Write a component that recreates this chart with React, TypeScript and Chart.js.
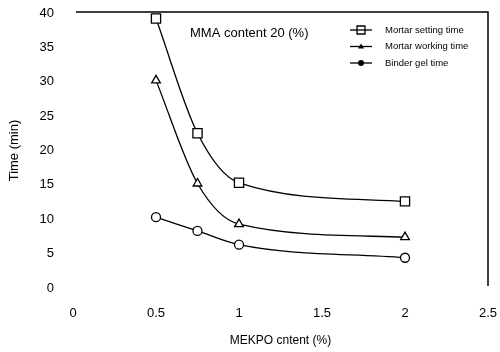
import React, { useEffect, useRef } from "react";
import { Chart, registerables } from "chart.js";
Chart.register(...registerables);

const mekpo = [0.5, 0.75, 1, 2];
const settingTime = [39.2, 22.5, 15.3, 12.6];
const workingTime = [30.2, 15.2, 9.3, 7.4];
const gelTime = [10.3, 8.3, 6.3, 4.4];
const seriesNames = ["Mortar setting time", "Mortar working time", "Binder gel time"];
const xTicks = [0, 0.5, 1, 1.5, 2, 2.5];
const yTicks = [0, 5, 10, 15, 20, 25, 30, 35, 40];
const annotation = "MMA content 20 (%)";

const FONT = "'Liberation Sans', Arial, sans-serif";

const framePlugin = {
  id: "frame",
  afterDraw(chart: any) {
    const { ctx, chartArea } = chart;
    ctx.save();
    ctx.strokeStyle = "#000";
    ctx.lineWidth = 1.5;
    ctx.beginPath();
    ctx.moveTo(chartArea.left + 3, chartArea.top - 1);
    ctx.lineTo(chartArea.right, chartArea.top - 1);
    ctx.lineTo(chartArea.right, chartArea.bottom - 2);
    ctx.stroke();

    // annotation text
    ctx.fillStyle = "#000";
    ctx.font = `13px ${FONT}`;
    ctx.textBaseline = "middle";
    ctx.textAlign = "left";
    ctx.fillText(annotation, chartArea.left + 117, chartArea.top + 20);

    // legend
    const lx = chartArea.left + 277;
    const ly = chartArea.top + 17;
    chart.data.datasets.forEach((ds: any, i: number) => {
      const y = ly + i * 16.5;
      ctx.strokeStyle = "#000";
      ctx.lineWidth = 1.3;
      ctx.beginPath();
      ctx.moveTo(lx, y);
      ctx.lineTo(lx + 22, y);
      ctx.stroke();
      const cx = lx + 11;
      ctx.beginPath();
      if (ds.pointStyle === "rect") {
        ctx.fillStyle = "#fff";
        ctx.rect(cx - 4, y - 4, 8, 8);
        ctx.fill();
        ctx.stroke();
        ctx.beginPath();
        ctx.moveTo(cx - 4, y);
        ctx.lineTo(cx + 4, y);
        ctx.stroke();
      } else if (ds.pointStyle === "triangle") {
        ctx.fillStyle = "#000";
        ctx.moveTo(cx, y - 3);
        ctx.lineTo(cx + 3, y + 2);
        ctx.lineTo(cx - 3, y + 2);
        ctx.closePath();
        ctx.fill();
      } else {
        ctx.fillStyle = "#000";
        ctx.arc(cx, y, 3, 0, Math.PI * 2);
        ctx.fill();
      }
      ctx.fillStyle = "#000";
      ctx.font = `9.5px ${FONT}`;
      ctx.textAlign = "left";
      ctx.fillText(ds.label, lx + 35, y);
    });
    ctx.restore();
  },
};

export default function App() {
  const ref = useRef<HTMLCanvasElement>(null);
  useEffect(() => {
    document.body.style.margin = "0";
    const mk = (label: string, vals: number[], style: string, radius: number) => ({
      label,
      data: mekpo.map((x, i) => ({ x, y: vals[i] })),
      borderColor: "#000",
      backgroundColor: "#fff",
      borderWidth: 1.3,
      pointStyle: style,
      pointRadius: radius,
      pointBorderWidth: 1.3,
      pointBorderColor: "#000",
      pointBackgroundColor: "#fff",
      cubicInterpolationMode: "monotone" as const,
      showLine: true,
    });
    const chart = new Chart(ref.current!, {
      type: "scatter",
      data: {
        datasets: [
          mk(seriesNames[0], settingTime, "rect", 6.5),
          mk(seriesNames[1], workingTime, "triangle", 5),
          mk(seriesNames[2], gelTime, "circle", 4.5),
        ],
      },
      options: {
        responsive: false,
        animation: false,
        layout: { padding: { top: 13, right: 12, left: 0, bottom: 0 } },
        plugins: { legend: { display: false }, tooltip: { enabled: false } },
        scales: {
          x: {
            type: "linear",
            min: 0,
            max: 2.5,
            afterBuildTicks: (s: any) => {
              s.ticks = xTicks.map((v) => ({ value: v }));
            },
            afterFit: (s: any) => {
              s.height = 64;
              s.paddingLeft = 0;
              s.paddingRight = 0;
            },
            grid: { display: false, drawTicks: false },
            border: { display: false },
            ticks: {
              color: "#000",
              padding: 18,
              font: { family: FONT, size: 13 },
              callback: (v: any) => String(v),
            },
            title: {
              display: true,
              text: "MEKPO cntent (%)",
              color: "#000",
              font: { family: FONT, size: 12 },
              padding: { top: 7 },
            },
          },
          y: {
            min: 0,
            max: 40,
            afterBuildTicks: (s: any) => {
              s.ticks = yTicks.map((v) => ({ value: v }));
            },
            afterFit: (s: any) => {
              s.width = 73;
              s.paddingTop = 0;
              s.paddingBottom = 0;
            },
            grid: { display: false, drawTicks: false },
            border: { display: false },
            ticks: {
              color: "#000",
              padding: 19,
              font: { family: FONT, size: 13 },
            },
            title: {
              display: true,
              text: "Time (min)",
              color: "#000",
              font: { family: FONT, size: 13 },
              padding: { top: 7, bottom: 2 },
            },
          },
        },
      },
      plugins: [framePlugin],
    });
    return () => chart.destroy();
  }, []);
  return (
    <div style={{ width: 500, height: 352, background: "#fff" }}>
      <canvas ref={ref} width={500} height={352} />
    </div>
  );
}
